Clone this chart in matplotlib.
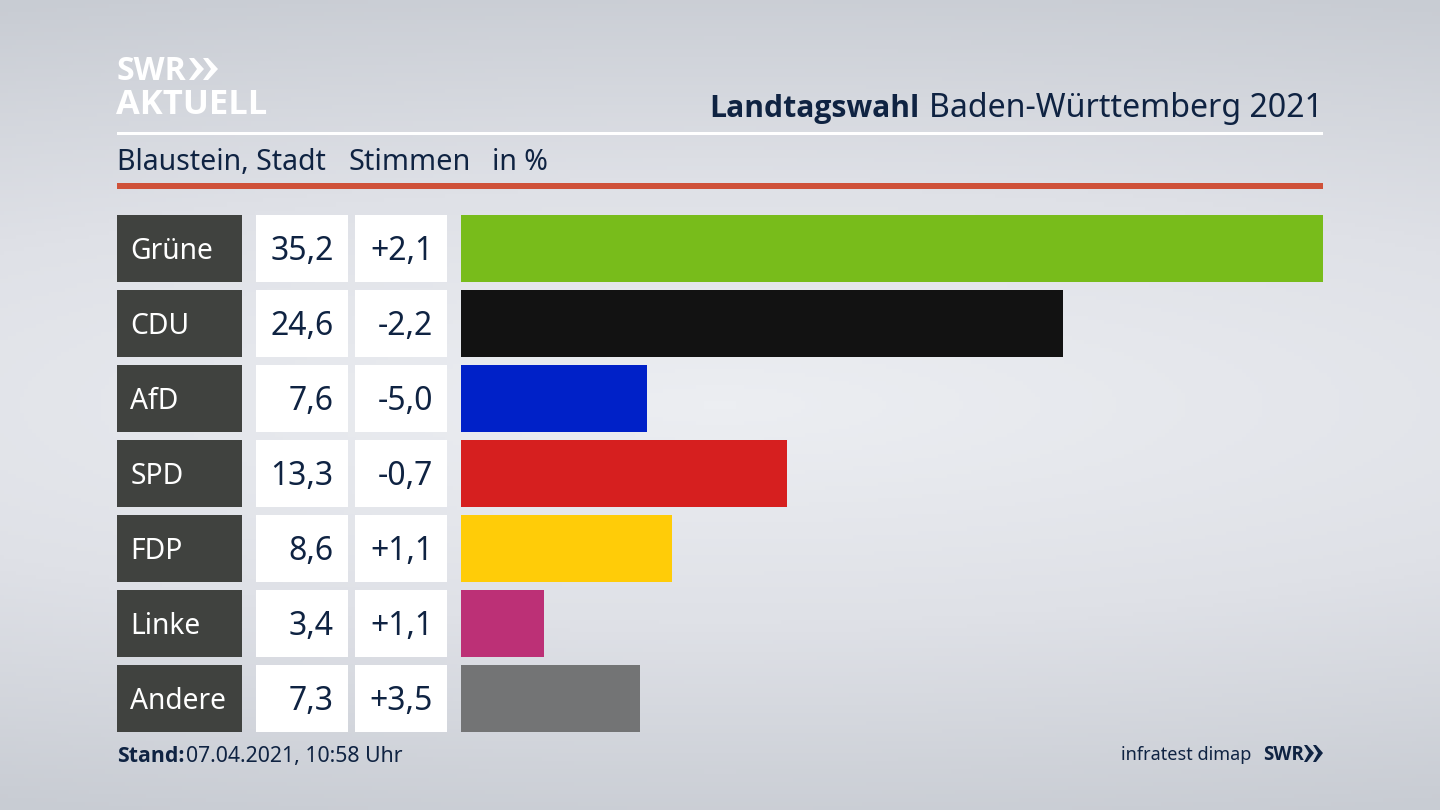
import numpy as np
import matplotlib
matplotlib.use("Agg")
import matplotlib.pyplot as plt
from matplotlib.colors import LinearSegmentedColormap
from matplotlib.patches import Polygon, Rectangle

parties = ["Grüne", "CDU", "AfD", "SPD", "FDP", "Linke", "Andere"]
votes = [35.2, 24.6, 7.6, 13.3, 8.6, 3.4, 7.3]
changes = ["+2,1", "-2,2", "-5,0", "-0,7", "+1,1", "+1,1", "+3,5"]
colors = ["#78bc1b", "#121212", "#0021c8", "#d61f1f", "#ffcc08", "#bc3076", "#737475"]

NAVY = "#0f2342"
BOLD = "Open Sans"
W, H = 1440, 810
plt.rcParams["font.family"] = ["Noto Sans", "DejaVu Sans"]

fig = plt.figure(figsize=(W / 100, H / 100), dpi=100)
ax = fig.add_axes([0, 0, 1, 1])
ax.set_xlim(0, W)
ax.set_ylim(H, 0)
ax.axis("off")

# background, light band through the middle
yy, xx = np.mgrid[0:1:200j, 0:1:356j]
dist = np.sqrt(((xx - 0.5) / 1.5) ** 2 + ((yy - 0.5) / 0.58) ** 2)
cmap = LinearSegmentedColormap.from_list("bg", ["#eceef2", "#dfe1e7", "#c8ccd3"])
ax.imshow(np.clip(dist, 0, 1), cmap=cmap, extent=[0, W, H, 0], aspect="auto", zorder=0)

# logo
ax.text(117, 72, "SWR", color="white", fontsize=23, fontweight="bold", va="center", family=BOLD)
ax.text(116, 105, "AKTUELL", color="white", fontsize=24.8, fontweight="bold", va="center", family=BOLD)
for x0 in (189, 203):
    ax.add_patch(Polygon([(x0, 58), (x0 + 5, 58), (x0 + 15, 69), (x0 + 5, 80), (x0, 80), (x0 + 8, 69)], color="white", lw=0, zorder=3))

# header
t = ax.text(1323, 108.5, "Baden-Württemberg 2021", color=NAVY, fontsize=23.1, ha="right", va="center")
fig.canvas.draw()
bb = t.get_window_extent()
ax.text(bb.x0 - 9, 108.5, "Landtagswahl", color=NAVY, fontsize=21.7, fontweight="bold", ha="right", va="center", family=BOLD)
ax.add_patch(Rectangle((117, 132), 1206, 3, color="white", lw=0))
ax.text(117, 163, "Blaustein, Stadt", color=NAVY, fontsize=20.5, va="center")
ax.text(348, 163, "Stimmen", color=NAVY, fontsize=20.8, va="center")
ax.text(492, 163, "in %", color=NAVY, fontsize=20.5, va="center")
ax.add_patch(Rectangle((117, 183), 1206, 6, color="#cf5139", lw=0))

# rows
scale = (1323 - 461) / max(votes)
for i, party in enumerate(parties):
    top = 215 + i * 75
    h = 66.6
    mid = top + h / 2
    ax.add_patch(Rectangle((117, top), 124.5, h, color="#40423f", lw=0, zorder=2))
    ax.add_patch(Rectangle((255.5, top), 92.5, h, color="white", lw=0, zorder=2))
    ax.add_patch(Rectangle((354.5, top), 92.5, h, color="white", lw=0, zorder=2))
    ax.add_patch(Rectangle((461, top), votes[i] * scale, h, color=colors[i], lw=0, zorder=2))
    ax.text(130.5, mid + 3, party, color="white", fontsize=20.3, va="center", zorder=3)
    ax.text(333.5, mid + 3, f"{votes[i]:.1f}".replace(".", ","), color=NAVY, fontsize=23, ha="right", va="center", zorder=3)
    ax.text(433, mid + 3, changes[i], color=NAVY, fontsize=23, ha="right", va="center", zorder=3)

# footer
ax.text(117, 756.5, "Stand:", color=NAVY, fontsize=15.3, fontweight="bold", va="center", family=BOLD)
ax.text(186.5, 756.5, "07.04.2021, 10:58 Uhr", color=NAVY, fontsize=15.3, va="center")
ax.text(1251, 755.5, "infratest dimap", color=NAVY, fontsize=13, ha="right", va="center")
ax.text(1263, 755, "SWR", color=NAVY, fontsize=13.5, fontweight="bold", va="center", family=BOLD)
for x0 in (1304, 1313):
    ax.add_patch(Polygon([(x0, 745), (x0 + 3, 745), (x0 + 10, 753), (x0 + 3, 762), (x0, 762), (x0 + 5, 753)], color=NAVY, lw=0, zorder=3))

fig.savefig("out.png", dpi=100)
